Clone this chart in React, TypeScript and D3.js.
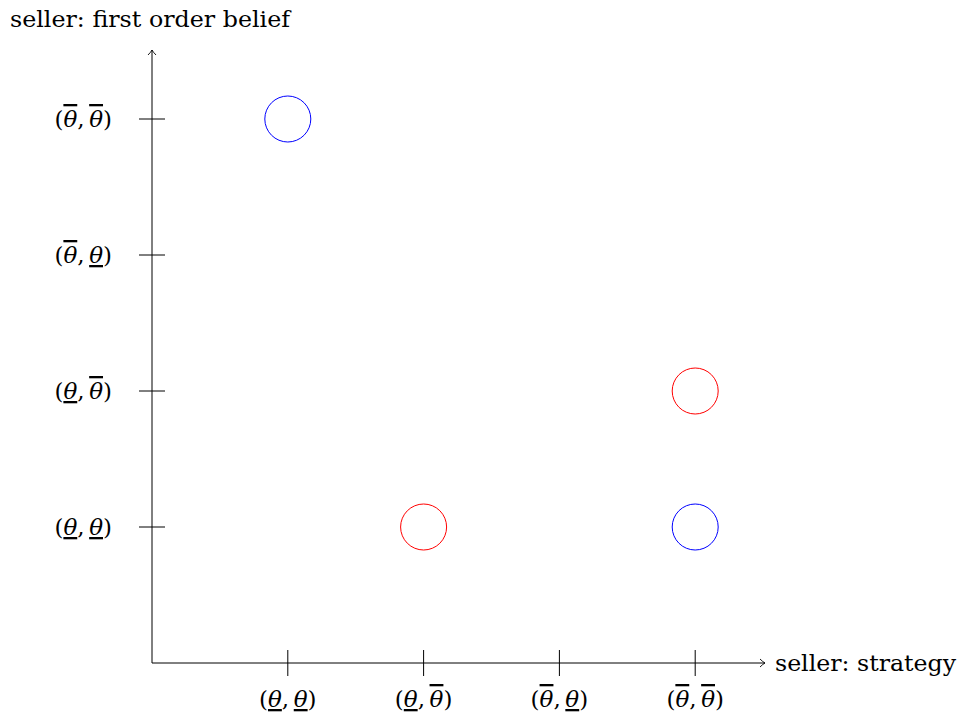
import React from 'react';
import * as d3 from 'd3';

// the four pure strategy / belief profiles, in axis order
const profiles: [string, string][] = [
  ['low', 'low'],
  ['low', 'high'],
  ['high', 'low'],
  ['high', 'high'],
];

// points: index of strategy (x) and belief (y) profile
const bluePoints = [
  { strategy: 0, belief: 3 },
  { strategy: 3, belief: 0 },
];
const redPoints = [
  { strategy: 1, belief: 0 },
  { strategy: 3, belief: 1 },
];

const FONT = '"DejaVu Serif", "Liberation Serif", serif';

const Theta = ({ kind }: { kind: string }) => (
  <tspan
    fontStyle="italic"
    style={{ textDecoration: kind === 'high' ? 'overline' : 'underline' }}
  >
    θ
  </tspan>
);

const ProfileLabel = ({ p, ...rest }: { p: [string, string]; [k: string]: any }) => (
  <text fontFamily={FONT} fontSize={23} fill="#000" {...rest}>
    (<Theta kind={p[0]} />,{'\u2009'}<Theta kind={p[1]} />)
  </text>
);

const App = () => {
  const width = 958;
  const height = 720;
  const origin = { x: 152, y: 663 };

  const x = d3.scaleLinear().domain([0, 4]).range([origin.x, origin.x + 4 * 135.8]);
  const y = d3.scaleLinear().domain([0, 4]).range([origin.y, origin.y - 4 * 136]);

  const xEnd = 765;
  const yEnd = 50;
  const r = 23;

  return (
    <svg width={width} height={height} style={{ position: 'absolute', left: 0, top: 0 }}>
      {/* axes */}
      <line x1={origin.x} y1={origin.y} x2={xEnd} y2={origin.y} stroke="#000" strokeWidth={1} />
      <line x1={origin.x} y1={origin.y} x2={origin.x} y2={yEnd} stroke="#000" strokeWidth={1} />
      <path
        d={`M${xEnd - 5},${origin.y - 4} Q${xEnd - 2},${origin.y - 1} ${xEnd},${origin.y} Q${xEnd - 2},${origin.y + 1} ${xEnd - 5},${origin.y + 4}`}
        fill="none"
        stroke="#000"
        strokeWidth={0.9}
      />
      <path
        d={`M${origin.x - 4},${yEnd + 5} Q${origin.x - 1},${yEnd + 2} ${origin.x},${yEnd} Q${origin.x + 1},${yEnd + 2} ${origin.x + 4},${yEnd + 5}`}
        fill="none"
        stroke="#000"
        strokeWidth={0.9}
      />

      {/* x ticks */}
      {profiles.map((p, i) => (
        <g key={`xt${i}`}>
          <line x1={x(i + 1)} x2={x(i + 1)} y1={origin.y - 13} y2={origin.y + 13} stroke="#000" />
          <ProfileLabel p={p} x={x(i + 1)} y={origin.y + 44} textAnchor="middle" />
        </g>
      ))}

      {/* y ticks */}
      {profiles.map((p, i) => (
        <g key={`yt${i}`}>
          <line x1={origin.x - 13} x2={origin.x + 13} y1={y(i + 1)} y2={y(i + 1)} stroke="#000" />
          <ProfileLabel p={p} x={112} y={y(i + 1) + 8} textAnchor="end" />
        </g>
      ))}

      {/* points */}
      {bluePoints.map((d, i) => (
        <circle key={`b${i}`} cx={x(d.strategy + 1)} cy={y(d.belief + 1)} r={r} fill="none" stroke="#0000ff" strokeWidth={1} />
      ))}
      {redPoints.map((d, i) => (
        <circle key={`r${i}`} cx={x(d.strategy + 1)} cy={y(d.belief + 1)} r={r} fill="none" stroke="#ff0000" strokeWidth={1} />
      ))}

      {/* axis titles */}
      <text x={10} y={27} fontFamily={FONT} fontSize={23} fill="#000" textLength={280} lengthAdjust="spacingAndGlyphs">
        seller: first order belief
      </text>
      <text x={775} y={671} fontFamily={FONT} fontSize={23} fill="#000" textLength={181} lengthAdjust="spacingAndGlyphs">
        seller: strategy
      </text>
    </svg>
  );
};

export default App;
